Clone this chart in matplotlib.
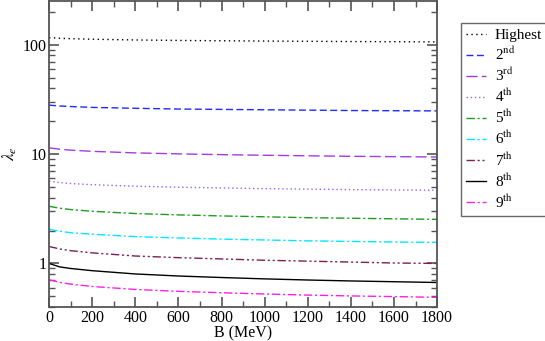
import matplotlib
matplotlib.use("Agg")
import matplotlib.pyplot as plt
from matplotlib.ticker import LogLocator, MultipleLocator, FixedLocator

plt.rcParams["font.family"] = ["Liberation Serif", "DejaVu Serif"]
plt.rcParams["mathtext.fontset"] = "stix"

b_mev = [0, 50, 100, 200, 400, 600, 800, 1000, 1200, 1400, 1600, 1800]

highest = [116, 114.4, 113.4, 112.1, 110.4, 109.3, 108.5, 107.9, 107.3, 106.8, 106.4, 106]
second = [28, 27.5, 27.2, 26.7, 26.2, 25.8, 25.6, 25.4, 25.2, 25.0, 24.9, 24.8]
third = [11.4, 11.07, 10.86, 10.59, 10.25, 10.04, 9.88, 9.75, 9.64, 9.54, 9.47, 9.4]
fourth = [5.65, 5.49, 5.38, 5.25, 5.08, 4.98, 4.90, 4.83, 4.78, 4.73, 4.70, 4.67]
fifth = [3.33, 3.20, 3.11, 3.00, 2.86, 2.78, 2.72, 2.67, 2.62, 2.59, 2.56, 2.53]
sixth = [2.05, 1.97, 1.91, 1.85, 1.76, 1.71, 1.67, 1.64, 1.61, 1.59, 1.57, 1.56]
seventh = [1.43, 1.356, 1.31, 1.25, 1.17, 1.13, 1.10, 1.07, 1.05, 1.03, 1.01, 1.0]
eighth = [1.0, 0.93, 0.90, 0.859, 0.802, 0.768, 0.744, 0.723, 0.706, 0.692, 0.681, 0.67]
ninth = [0.71, 0.672, 0.647, 0.616, 0.579, 0.556, 0.540, 0.526, 0.514, 0.505, 0.498, 0.49]

series = [
    ("Highest", highest, "black", (0, (1, 2.5))),
    (r"2$^{\rm nd}$", second, "#1f2bff", (0, (5, 2.5))),
    (r"3$^{\rm rd}$", third, "#a23be6", (0, (8, 3))),
    (r"4$^{\rm th}$", fourth, "#9a63f0", (0, (1, 2))),
    (r"5$^{\rm th}$", fifth, "#219a21", (0, (6, 2, 1.5, 2))),
    (r"6$^{\rm th}$", sixth, "#00e8ff", (0, (6, 2, 1.5, 2))),
    (r"7$^{\rm th}$", seventh, "#7a1f55", (0, (6, 2, 1.5, 2, 1.5, 2))),
    (r"8$^{\rm th}$", eighth, "black", "-"),
    (r"9$^{\rm th}$", ninth, "#ff1fe8", (0, (6, 2, 1.5, 2))),
]

fig = plt.figure(figsize=(5.45, 3.41), dpi=100)
ax = fig.add_axes([0.09, 0.0997, 0.712, 0.897])

for label, vals, color, ls in series:
    ax.plot(b_mev, vals, color=color, linestyle=ls, linewidth=1.0, label=label)

ax.set_yscale("log")
ax.set_xlim(0, 1800)
ax.set_ylim(0.4, 250)
ax.xaxis.set_major_locator(MultipleLocator(200))
ax.xaxis.set_minor_locator(MultipleLocator(100))
ax.yaxis.set_major_locator(FixedLocator([1, 10, 100]))
ax.yaxis.set_minor_locator(LogLocator(base=10, subs=range(2, 10)))
ax.set_yticklabels(["1", "10", "100"])
ax.yaxis.set_minor_formatter(plt.NullFormatter())

ax.tick_params(which="both", direction="in", top=True, right=True,
               colors="#555555", labelcolor="black", labelsize=11.5)
ax.tick_params(which="major", length=7, width=1.2, pad=2)
ax.tick_params(which="minor", length=4, width=1.0)
for sp in ax.spines.values():
    sp.set_color("#555555")
    sp.set_linewidth(1.3)

ax.set_xlabel("B (MeV)", fontsize=11.5, labelpad=0)
ax.set_ylabel(r"$\lambda_e$", fontsize=12, labelpad=2)

leg = ax.legend(loc="upper left", bbox_to_anchor=(0.845, 0.933),
                bbox_transform=fig.transFigure, borderaxespad=0,
                fontsize=11, frameon=True, fancybox=False,
                edgecolor="#444444", handlelength=1.3,
                labelspacing=0.25, borderpad=0.35, handletextpad=0.6)
leg.get_frame().set_linewidth(1.0)

fig.savefig("out.png", dpi=100)
